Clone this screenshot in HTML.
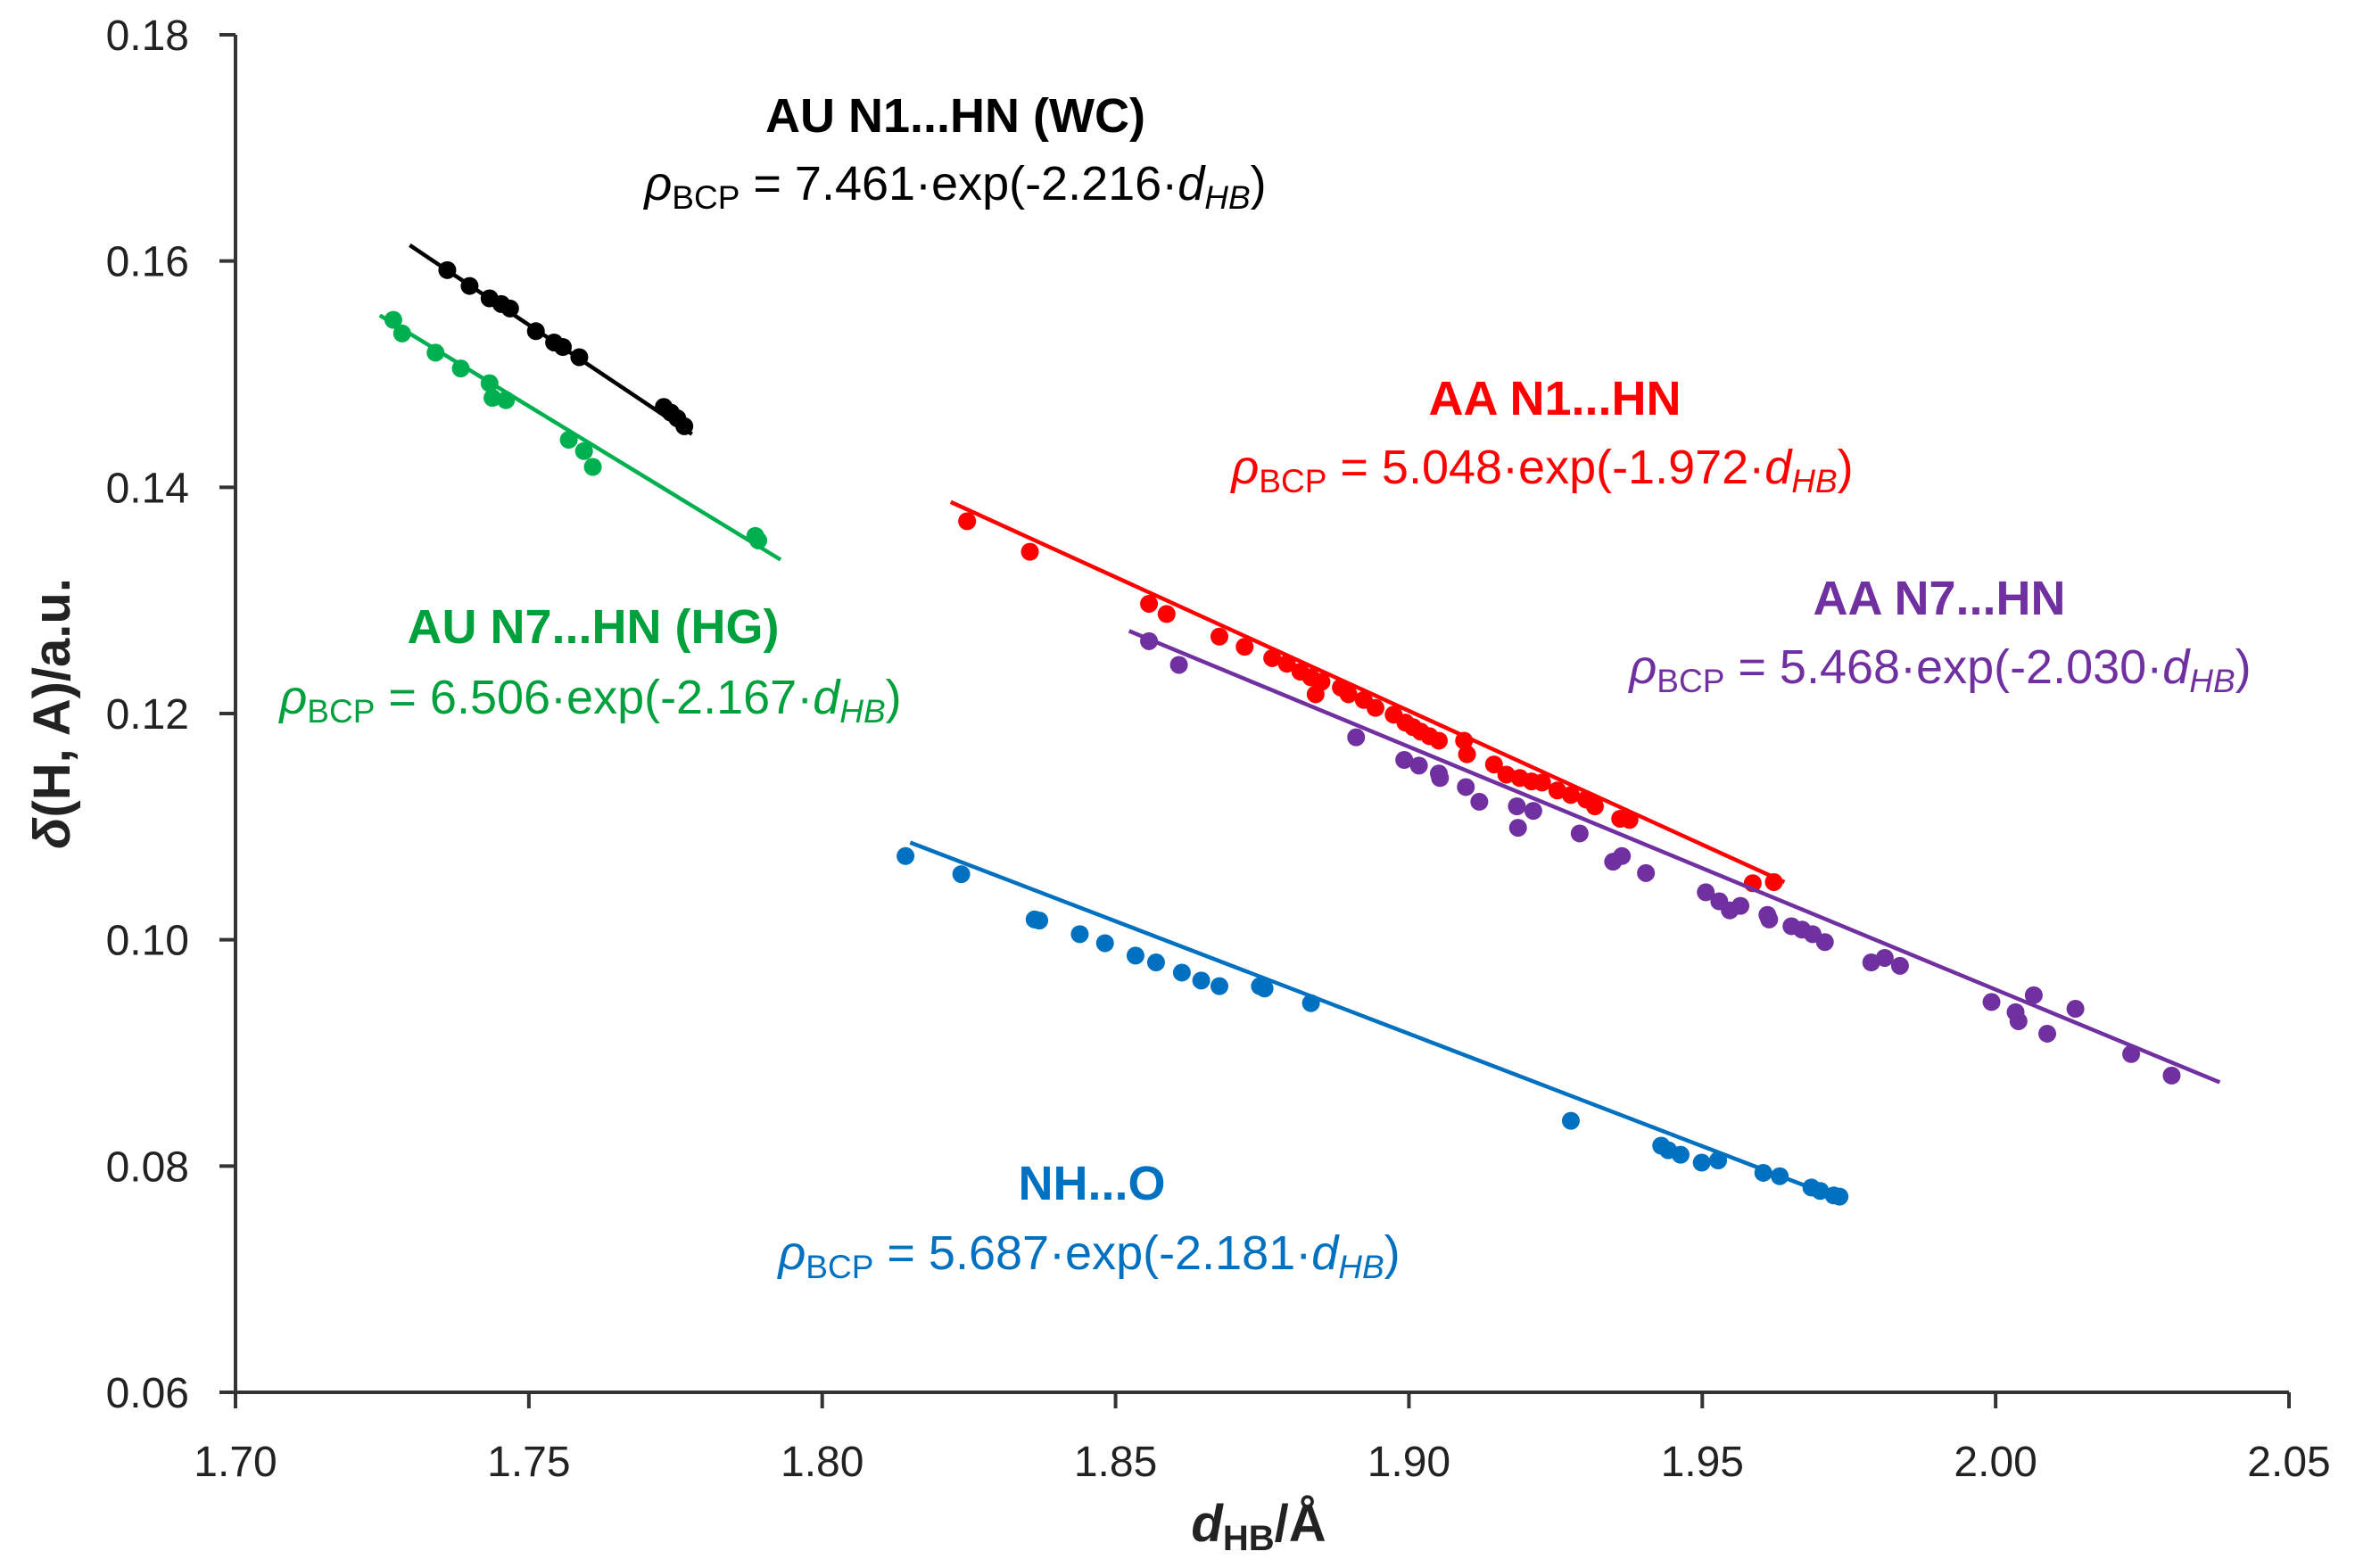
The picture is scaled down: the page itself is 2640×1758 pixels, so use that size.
<!DOCTYPE html>
<html><head><meta charset="utf-8"><style>
html,body{margin:0;padding:0;background:#fff;}
svg{display:block;font-family:"Liberation Sans",sans-serif;}
</style></head><body>
<svg id="chart" width="2640" height="1758" viewBox="0 0 2640 1758" xmlns="http://www.w3.org/2000/svg">
<g id="axes"></g>
<g id="series"></g>
<g font-size="54" text-anchor="middle">
 <text x="1071" y="148" font-weight="bold" fill="#000">AU N1...HN (WC)</text>
 <text x="1071" y="224" fill="#000"><tspan font-style="italic">ρ</tspan><tspan font-size="37" dy="10">BCP</tspan><tspan dy="-10"> = 7.461·exp(-2.216·</tspan><tspan font-style="italic">d</tspan><tspan font-style="italic" font-size="37" dy="10">HB</tspan><tspan dy="-10">)</tspan></text>
 <text x="1743" y="465" font-weight="bold" fill="#ff0000">AA N1...HN</text>
 <text x="1729" y="542" fill="#ff0000"><tspan font-style="italic">ρ</tspan><tspan font-size="37" dy="10">BCP</tspan><tspan dy="-10"> = 5.048·exp(-1.972·</tspan><tspan font-style="italic">d</tspan><tspan font-style="italic" font-size="37" dy="10">HB</tspan><tspan dy="-10">)</tspan></text>
 <text x="2174" y="689" font-weight="bold" fill="#7030a0">AA N7...HN</text>
 <text x="2175" y="766" fill="#7030a0"><tspan font-style="italic">ρ</tspan><tspan font-size="37" dy="10">BCP</tspan><tspan dy="-10"> = 5.468·exp(-2.030·</tspan><tspan font-style="italic">d</tspan><tspan font-style="italic" font-size="37" dy="10">HB</tspan><tspan dy="-10">)</tspan></text>
 <text x="665" y="721" font-weight="bold" fill="#00a03c">AU N7...HN (HG)</text>
 <text x="662" y="800" fill="#00a03c"><tspan font-style="italic">ρ</tspan><tspan font-size="37" dy="10">BCP</tspan><tspan dy="-10"> = 6.506·exp(-2.167·</tspan><tspan font-style="italic">d</tspan><tspan font-style="italic" font-size="37" dy="10">HB</tspan><tspan dy="-10">)</tspan></text>
 <text x="1224" y="1345" font-weight="bold" fill="#0070c0">NH...O</text>
 <text x="1221" y="1423" fill="#0070c0"><tspan font-style="italic">ρ</tspan><tspan font-size="37" dy="10">BCP</tspan><tspan dy="-10"> = 5.687·exp(-2.181·</tspan><tspan font-style="italic">d</tspan><tspan font-style="italic" font-size="37" dy="10">HB</tspan><tspan dy="-10">)</tspan></text>
</g>
<text transform="translate(78,800) rotate(-90)" text-anchor="middle" font-size="58" font-weight="bold" fill="#222"><tspan font-style="italic">δ</tspan>(H, A)/a.u.</text>
<text x="1411" y="1728" text-anchor="middle" font-size="58" font-weight="bold" fill="#222"><tspan font-style="italic">d</tspan><tspan font-size="40" dy="10">HB</tspan><tspan dy="-10">/Å</tspan></text>
</svg>
<script>
const xTicks = [1.70,1.75,1.80,1.85,1.90,1.95,2.00,2.05];
const yTicks = [0.06,0.08,0.10,0.12,0.14,0.16,0.18];
const xTickLabels = ["1.70","1.75","1.80","1.85","1.90","1.95","2.00","2.05"];
const yTickLabels = ["0.06","0.08","0.10","0.12","0.14","0.16","0.18"];

const seriesNames = ["au-n1","au-n7","aa-n1","aa-n7","nh-o"];
const seriesColors = ["#000000","#00b050","#ff0000","#7030a0","#0070c0"];
const fitStartX = [1.7297,1.7246,1.8219,1.8523,1.8150];
const fitEndX = [1.7778,1.7929,1.9640,2.0382,1.9744];
const fitStartY = [0.1614,0.1552,0.1387,0.1273,0.1086];
const fitEndY = [0.1447,0.1336,0.1051,0.0874,0.0769];

const auN1X = [1.7361,1.7399,1.7433,1.7453,1.7468,1.7512,1.7543,1.7558,1.7586,1.7730,1.7742,1.7753,1.7765];
const auN1Y = [0.1592,0.1578,0.1567,0.1562,0.1558,0.1538,0.1528,0.1524,0.1515,0.1471,0.1466,0.1461,0.1454];
const auN7X = [1.7269,1.7284,1.7341,1.7384,1.7433,1.7438,1.7461,1.7568,1.7594,1.7609,1.7886,1.7891];
const auN7Y = [0.1548,0.1536,0.1519,0.1505,0.1492,0.1479,0.1477,0.1442,0.1432,0.1418,0.1357,0.1353];
const aaN1X = [1.8247,1.8354,1.8557,1.8587,1.8677,1.8720,1.8767,1.8792,1.8815,1.8833,1.8841,1.8851,1.8884,1.8897,1.8923,1.8943,1.8974,1.8994,1.9007,1.9020,1.9035,1.9051,1.9094,1.9099,1.9145,1.9166,1.9189,1.9209,1.9227,1.9253,1.9276,1.9302,1.9317,1.9360,1.9376,1.9586,1.9622];
const aaN1Y = [0.1370,0.1343,0.1297,0.1288,0.1268,0.1259,0.1249,0.1244,0.1237,0.1232,0.1217,0.1228,0.1223,0.1217,0.1212,0.1205,0.1199,0.1192,0.1188,0.1184,0.1180,0.1176,0.1176,0.1164,0.1155,0.1146,0.1143,0.1140,0.1139,0.1132,0.1128,0.1124,0.1118,0.1107,0.1106,0.1050,0.1051];
const aaN7X = [1.8557,1.8608,1.8910,1.8992,1.9017,1.9051,1.9053,1.9097,1.9120,1.9184,1.9186,1.9212,1.9291,1.9348,1.9363,1.9404,1.9506,1.9529,1.9547,1.9565,1.9611,1.9614,1.9652,1.9670,1.9688,1.9709,1.9788,1.9811,1.9837,1.9993,2.0034,2.0039,2.0065,2.0088,2.0136,2.0231,2.0300];
const aaN7Y = [0.1264,0.1243,0.1179,0.1159,0.1154,0.1147,0.1143,0.1135,0.1122,0.1118,0.1099,0.1114,0.1094,0.1069,0.1074,0.1059,0.1042,0.1034,0.1026,0.1030,0.1022,0.1018,0.1012,0.1009,0.1005,0.0998,0.0980,0.0984,0.0977,0.0945,0.0936,0.0928,0.0951,0.0917,0.0939,0.0899,0.0880];
const nhoX = [1.8142,1.8237,1.8362,1.8370,1.8439,1.8482,1.8534,1.8569,1.8613,1.8646,1.8677,1.8746,1.8754,1.8833,1.9276,1.9430,1.9442,1.9463,1.9499,1.9527,1.9604,1.9632,1.9686,1.9701,1.9724,1.9734];
const nhoY = [0.1074,0.1058,0.1018,0.1017,0.1005,0.0997,0.0986,0.0980,0.0971,0.0964,0.0959,0.0959,0.0957,0.0944,0.0840,0.0818,0.0814,0.0810,0.0803,0.0805,0.0794,0.0791,0.0781,0.0778,0.0774,0.0773];
const seriesX = [auN1X,auN7X,aaN1X,aaN7X,nhoX];
const seriesY = [auN1Y,auN7Y,aaN1Y,aaN7Y,nhoY];

const X0=264, X1=2566, Y0=1561, Y1=39;
const xMin=1.70, xMax=2.05, yMin=0.06, yMax=0.18;
function sx(v){return X0+(v-xMin)/(xMax-xMin)*(X1-X0);}
function sy(v){return Y0-(v-yMin)/(yMax-yMin)*(Y0-Y1);}
const NS="http://www.w3.org/2000/svg";
function mk(tag,attrs,parent){const e=document.createElementNS(NS,tag);for(const k in attrs)e.setAttribute(k,attrs[k]);parent.appendChild(e);return e;}

const axes=document.getElementById('axes');
let yl=mk('line',{x1:X0,y1:Y1,x2:X0,y2:Y0+2,stroke:'#333','stroke-width':4},axes);


let xl=mk('line',{x1:X0-2,y1:Y0,x2:X1,y2:Y0,stroke:'#333','stroke-width':4},axes);


xTicks.forEach((v,i)=>{
  const t=mk('line',{x1:sx(v),y1:Y0,x2:sx(v),y2:Y0+18,stroke:'#333','stroke-width':4},axes);
  
  
  const l=mk('text',{x:sx(v),y:1655,'text-anchor':'middle','font-size':48,fill:'#222'},axes);
  l.textContent=xTickLabels[i];
  
  
});
yTicks.forEach((v,i)=>{
  const t=mk('line',{x1:X0-18,y1:sy(v),x2:X0,y2:sy(v),stroke:'#333','stroke-width':4},axes);
  
  
  const l=mk('text',{x:212,y:sy(v)+17,'text-anchor':'end','font-size':48,fill:'#222'},axes);
  l.textContent=yTickLabels[i];
  
  
});

const sg=document.getElementById('series');
seriesNames.forEach((name,s)=>{
  const g=mk('g',{},sg);
  
  
  const pl=mk('line',{x1:sx(fitStartX[s]),y1:sy(fitStartY[s]),x2:sx(fitEndX[s]),y2:sy(fitEndY[s]),stroke:seriesColors[s],'stroke-width':4.5},g);
  
  
  seriesX[s].forEach((xv,i)=>{
    const c=mk('circle',{cx:sx(xv),cy:sy(seriesY[s][i]),r:10,fill:seriesColors[s]},g);
    
    
  });
});
</script>
</body></html>
